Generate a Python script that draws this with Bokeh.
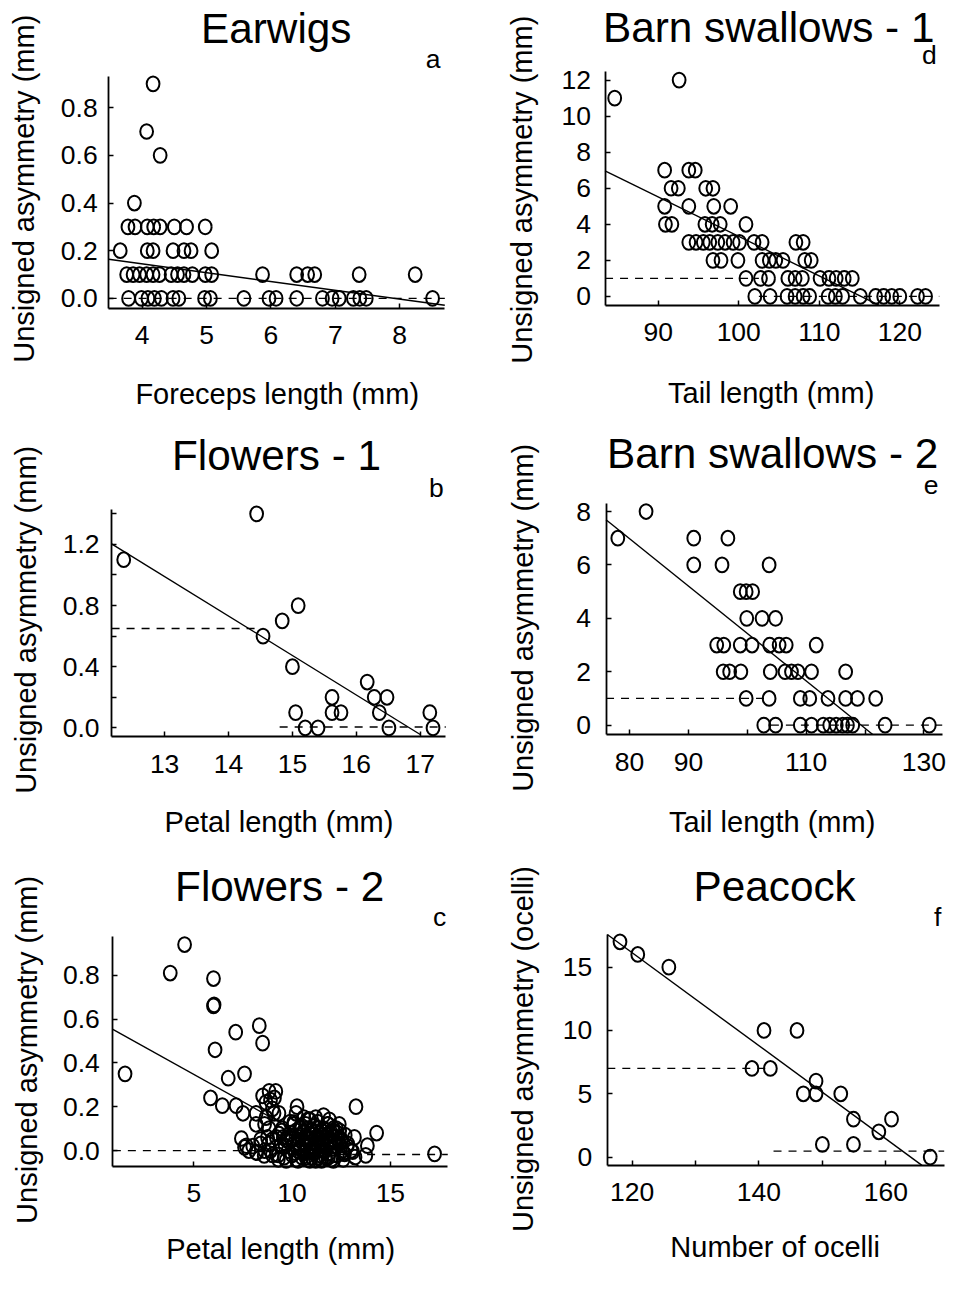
import math
from bokeh.plotting import figure
from bokeh.layouts import gridplot
from bokeh.models import FixedTicker, PrintfTickFormatter, Label, LinearAxis
from bokeh.embed import file_html
from bokeh.resources import INLINE

FONT = "Liberation Sans"

# ---------------- data ----------------
# (a) Earwigs
a_x = [4.17, 4.07, 4.28, 3.88,
       3.78, 3.89, 4.08, 4.18, 4.28, 4.50, 4.69, 4.98,
       3.66, 4.08, 4.17, 4.48, 4.65, 4.76, 5.08,
       3.76, 3.86, 3.96, 4.07, 4.17, 4.27, 4.45, 4.55, 4.65, 4.78, 4.98, 5.08, 5.87, 6.40, 6.57, 6.68, 7.37, 8.24,
       3.79, 3.99, 4.09, 4.19, 4.30, 4.48, 4.57, 4.97, 5.06, 5.58, 5.97, 6.08, 6.40, 6.80, 6.95, 7.06, 7.28, 7.38, 7.48, 8.51]
a_y = [0.9, 0.7, 0.6, 0.4,
       0.3, 0.3, 0.3, 0.3, 0.3, 0.3, 0.3, 0.3,
       0.2, 0.2, 0.2, 0.2, 0.2, 0.2, 0.2,
       0.1, 0.1, 0.1, 0.1, 0.1, 0.1, 0.1, 0.1, 0.1, 0.1, 0.1, 0.1, 0.1, 0.1, 0.1, 0.1, 0.1, 0.1,
       0.0, 0.0, 0.0, 0.0, 0.0, 0.0, 0.0, 0.0, 0.0, 0.0, 0.0, 0.0, 0.0, 0.0, 0.0, 0.0, 0.0, 0.0, 0.0, 0.0]
a_fit_x = [3.48, 8.70]
a_fit_y = [0.164, -0.029]
a_dash = [(3.48, 8.70, 0.0)]

# (b) Flowers - 1
b_x = [14.44, 12.36, 15.09, 14.84, 14.54, 15.00, 16.17, 15.62, 16.28, 16.48,
       15.05, 15.62, 15.76, 16.36, 17.15, 15.20, 15.40, 16.51, 17.20]
b_y = [1.4, 1.1, 0.8, 0.7, 0.6, 0.4, 0.3, 0.2, 0.2, 0.2,
       0.1, 0.1, 0.1, 0.1, 0.1, 0.0, 0.0, 0.0, 0.0]
b_fit_x = [12.17, 17.0]
b_fit_y = [1.204, -0.043]
b_dash = [(12.17, 14.5, 0.65), (14.8, 17.40, 0.006)]

# (c) Flowers - 2
c_pts = [(1.5, 0.35), (3.8, 0.81), (4.53, 0.94), (6.0, 0.785), (6.0, 0.66), (6.03, 0.665),
         (6.08, 0.46), (7.13, 0.54), (8.33, 0.57), (8.5, 0.49), (6.75, 0.33), (7.58, 0.35),
         (5.85, 0.24), (6.45, 0.205), (7.15, 0.205), (7.5, 0.17), (8.17, 0.17), (10.25, 0.2),
         (13.25, 0.2), (14.3, 0.08), (17.25, -0.015), (7.42, 0.055), (7.58, 0.015),
         (13.83, 0.022), (13.75, -0.022), (13.17, 0.06), (13.08, -0.005),
         (8.5, 0.25), (8.83, 0.27), (9.17, 0.27), (8.67, 0.22), (9.0, 0.19), (9.33, 0.17),
         (8.67, 0.15), (8.83, 0.1), (9.5, 0.09), (8.9, 0.23), (9.1, 0.24), (8.6, 0.12),
         (8.75, 0.06), (9.0, 0.05), (8.4, 0.03), (8.9, 0.0), (9.3, -0.02), (8.17, 0.12),
         (9.08, 0.17), (9.33, 0.075), (9.75, 0.06), (10.08, 0.127), (10.4, 0.105),
         (10.83, 0.142), (11.0, 0.09), (11.83, 0.12), (12.08, 0.09), (12.42, 0.09),
         (12.5, 0.045), (12.83, 0.03), (12.67, -0.015), (8.58, -0.022), (8.17, -0.007),
         (7.67, 0.022),
         (9.4, 0.02), (9.6, -0.03), (9.7, 0.05), (9.8, 0.0), (9.9, 0.08), (10.0, -0.02),
         (10.1, 0.03), (10.1, 0.12), (10.2, -0.04), (10.3, 0.06), (10.4, 0.01), (10.4, 0.10),
         (10.5, -0.03), (10.5, 0.04), (10.6, 0.08), (10.6, -0.01), (10.7, 0.12), (10.7, 0.02),
         (10.8, -0.04), (10.8, 0.06), (10.9, 0.14), (10.9, 0.0), (11.0, -0.03), (11.0, 0.04),
         (11.1, 0.11), (11.1, 0.01), (11.2, -0.045), (11.2, 0.06), (11.3, 0.02), (11.3, 0.13),
         (11.4, -0.02), (11.4, 0.08), (11.5, 0.04), (11.5, -0.04), (11.6, 0.10), (11.6, 0.0),
         (11.7, 0.06), (11.7, -0.03), (11.8, 0.12), (11.8, 0.02), (11.9, -0.01), (11.9, 0.08),
         (12.0, 0.04), (12.0, -0.04), (12.1, 0.1), (12.1, 0.01), (12.2, 0.06), (12.3, -0.02),
         (12.3, 0.08), (12.4, 0.03), (12.5, 0.05), (12.6, -0.01), (12.7, 0.07), (12.8, 0.02),
         (13.0, 0.0), (9.5, 0.1), (9.2, 0.06), (9.0, -0.02), (8.8, 0.03), (8.6, 0.0),
         (8.4, 0.05), (8.2, -0.01), (8.0, 0.02), (7.8, 0.0), (9.3, -0.04), (9.7, -0.045),
         (10.3, -0.045), (10.9, -0.045), (11.5, -0.045), (12.1, -0.045), (12.6, -0.04),
         (13.2, -0.03), (11.2, 0.15), (10.6, 0.15), (11.9, 0.14), (12.4, 0.12), (9.9, 0.13),
         (10.2, 0.17), (11.6, 0.16),
         (10.0, 0.05), (10.2, 0.09), (10.3, 0.0), (10.5, 0.11), (10.6, 0.03), (10.7, -0.03),
         (10.8, 0.1), (10.9, 0.05), (11.0, 0.0), (11.1, 0.07), (11.2, 0.03), (11.3, -0.03),
         (11.4, 0.05), (11.5, 0.09), (11.6, 0.03), (11.7, 0.0), (11.8, 0.07), (11.9, 0.04),
         (12.0, 0.08), (12.1, -0.02), (12.2, 0.02), (10.35, 0.03), (10.65, 0.06), (10.95, 0.09),
         (11.25, 0.1), (11.55, 0.06), (11.85, -0.03), (10.15, -0.01), (9.85, 0.04), (9.65, 0.02),
         (12.35, 0.05), (12.55, 0.0), (11.05, -0.01), (11.35, 0.06), (10.45, 0.07), (10.75, 0.0),
         (11.45, 0.01), (11.75, 0.09), (12.25, 0.1), (9.55, 0.06)]
c_x = [p[0] for p in c_pts]
c_y = [p[1] for p in c_pts]
c_fit_x = [0.88, 13.4]
c_fit_y = [0.553, -0.072]
c_dash = [(0.88, 10.0, 0.0), (10.0, 17.92, -0.018)]

# (d) Barn swallows - 1
d_x = [92.6, 84.6,
       90.8, 93.8, 94.6,
       91.6, 92.5, 95.9, 96.8,
       90.8, 93.8, 96.9, 99.0,
       90.9, 91.7, 95.8, 96.7, 97.7, 100.9,
       93.8, 94.7, 95.6, 96.4, 97.4, 98.3, 99.3, 100.1, 101.9, 102.9, 107.1, 108.0,
       96.8, 97.8, 99.9, 102.9, 103.8, 104.6, 105.5, 108.2, 109.0,
       100.9, 102.7, 103.7, 106.1, 107.0, 107.9, 110.1, 111.2, 112.1, 113.1, 114.1,
       102.0, 103.9, 106.0, 107.0, 108.0, 108.8, 111.1, 112.0, 112.9, 115.1, 117.0, 118.0, 119.0, 120.0, 122.2, 123.2]
d_y = [12, 11,
       7, 7, 7,
       6, 6, 6, 6,
       5, 5, 5, 5,
       4, 4, 4, 4, 4, 4,
       3, 3, 3, 3, 3, 3, 3, 3, 3, 3, 3, 3,
       2, 2, 2, 2, 2, 2, 2, 2, 2,
       1, 1, 1, 1, 1, 1, 1, 1, 1, 1, 1,
       0, 0, 0, 0, 0, 0, 0, 0, 0, 0, 0, 0, 0, 0, 0, 0]
d_fit_x = [83.4, 117.4]
d_fit_y = [6.97, -0.49]
d_dash = [(83.4, 102.5, 1.0), (102.5, 124.9, 0.0)]

# (e) Barn swallows - 2
e_x = [82.8,
       78.0, 90.9, 96.7,
       90.9, 95.7, 103.7,
       98.8, 99.8, 100.9,
       99.9, 102.5, 104.8,
       94.8, 96.0, 98.8, 100.8, 103.8, 105.4, 106.6, 111.7,
       95.9, 97.0, 98.9, 103.9, 106.4, 107.5, 108.6, 110.9, 116.7,
       99.8, 103.7, 109.0, 110.6, 113.7, 116.7, 118.7, 121.8,
       102.8, 104.8, 109.0, 110.9, 112.9, 114.0, 115.1, 116.2, 117.0, 117.9, 123.4, 130.9]
e_y = [8,
       7, 7, 7,
       6, 6, 6,
       5, 5, 5,
       4, 4, 4,
       3, 3, 3, 3, 3, 3, 3, 3,
       2, 2, 2, 2, 2, 2, 2, 2, 2,
       1, 1, 1, 1, 1, 1, 1, 1,
       0, 0, 0, 0, 0, 0, 0, 0, 0, 0, 0, 0]
e_fit_x = [76.0, 121.3]
e_fit_y = [7.69, -0.35]
e_dash = [(76.0, 104.0, 1.0), (104.0, 133.1, 0.0)]

# (f) Peacock
f_x = [118.1, 120.9, 125.8, 140.8, 146.0, 138.9, 141.8, 149.0, 147.0, 149.0,
       152.9, 154.9, 160.9, 158.9, 150.0, 154.9, 167.0]
f_y = [17, 16, 15, 10, 10, 7, 7, 6, 5, 5,
       5, 3, 3, 2, 1, 1, 0]
f_fit_x = [116.1, 165.7]
f_fit_y = [17.58, -0.65]
f_dash = [(116.1, 142.0, 7.0), (142.3, 169.2, 0.47)]

# tick values / labels
a_xticks = [4, 5, 6, 7, 8]
a_yticks = [0.0, 0.2, 0.4, 0.6, 0.8]
b_xticks = [13, 14, 15, 16, 17]
b_yticks = [0.0, 0.2, 0.4, 0.6, 0.8, 1.0, 1.2, 1.4]
b_yhide = [0.2, 0.6, 1.0, 1.4]
c_xticks = [5, 10, 15]
c_yticks = [0.0, 0.2, 0.4, 0.6, 0.8]
d_xticks = [90, 100, 110, 120]
d_yticks = [0, 2, 4, 6, 8, 10, 12]
e_xticks = [80, 90, 100, 110, 120, 130]
e_xhide = [100, 120]
e_yticks = [0, 2, 4, 6, 8]
f_xticks = [120, 130, 140, 150, 160]
f_xhide = [130, 150]
f_yticks = [0, 5, 10, 15]

# ---------------- layout ----------------
S = 0.983          # picture px per reference px (grid origin = reference origin)

COL_X = [0, 472]
COL_W = [472, 477]
ROW_Y = [0, 423, 855]
ROW_H = [423, 432, 414]

TICK_PX = 27
LABEL_PX = 29.5
TITLE_PX = 43
LETTER_PX = 27
MID = 0.33   # baseline -> vertical middle of text, in em

# frame = (left, top, right, bottom) of the plotting area in reference px
PANELS = [
    dict(key="a", title="Earwigs", col=0, row=0, frame=(110, 77, 452, 313),
         xr=(3.48, 8.70), yr=(-0.041, 0.932), xt=a_xticks, yt=a_yticks, yfmt="%.1f",
         xhide=[], yhide=[], ystd=11,
         title_pos=(280.5, 42.5), letter_pos=(440, 68.3),
         xlab_pos=(281.5, 410), ylab_pos=(33.5, 191.5),
         xlabel="Foreceps length (mm)", ylabel="Unsigned asymmetry (mm)",
         data=(a_x, a_y, a_fit_x, a_fit_y, a_dash)),
    dict(key="d", title="Barn swallows - 1", col=1, row=0, frame=(615, 72, 955, 310),
         xr=(83.4, 124.9), yr=(-0.49, 12.49), xt=d_xticks, yt=d_yticks, yfmt="%d",
         xhide=[], yhide=[], ystd=14,
         title_pos=(781.5, 41.7), letter_pos=(945, 64),
         xlab_pos=(784, 409.5), ylab_pos=(540, 192.5),
         xlabel="Tail length (mm)", ylabel="Unsigned asymmetry (mm)",
         data=(d_x, d_y, d_fit_x, d_fit_y, d_dash)),
    dict(key="b", title="Flowers - 1", col=0, row=1, frame=(113, 518, 453, 749),
         xr=(12.17, 17.40), yr=(-0.058, 1.427), xt=b_xticks, yt=b_yticks, yfmt="%.1f",
         xhide=[], yhide=b_yhide, ystd=12,
         title_pos=(280.8, 477.5), letter_pos=(443.3, 505),
         xlab_pos=(283.3, 845), ylab_pos=(36, 630),
         xlabel="Petal length (mm)", ylabel="Unsigned asymmetry (mm)",
         data=(b_x, b_y, b_fit_x, b_fit_y, b_dash)),
    dict(key="e", title="Barn swallows - 2", col=1, row=1, frame=(616, 511.7, 958, 746.7),
         xr=(76.0, 133.1), yr=(-0.35, 8.30), xt=e_xticks, yt=e_yticks, yfmt="%d",
         xhide=e_xhide, yhide=[], ystd=15,
         title_pos=(785.5, 475.5), letter_pos=(946.7, 501.7),
         xlab_pos=(785, 845), ylab_pos=(541, 628),
         xlabel="Tail length (mm)", ylabel="Unsigned asymmetry (mm)",
         data=(e_x, e_y, e_fit_x, e_fit_y, e_dash)),
    dict(key="c", title="Flowers - 2", col=0, row=2, frame=(114.3, 951.7, 455, 1186),
         xr=(0.88, 17.92), yr=(-0.072, 0.979), xt=c_xticks, yt=c_yticks, yfmt="%.1f",
         xhide=[], yhide=[], ystd=13,
         title_pos=(284, 916), letter_pos=(446.7, 941.7),
         xlab_pos=(285, 1280), ylab_pos=(36.5, 1067.5),
         xlabel="Petal length (mm)", ylabel="Unsigned asymmetry (mm)",
         data=(c_x, c_y, c_fit_x, c_fit_y, c_dash)),
    dict(key="f", title="Peacock", col=1, row=2, frame=(617.3, 950, 960, 1185),
         xr=(116.1, 169.2), yr=(-0.65, 17.59), xt=f_xticks, yt=f_yticks, yfmt="%d",
         xhide=f_xhide, yhide=[], ystd=15,
         title_pos=(787.5, 916), letter_pos=(953.3, 941.7),
         xlab_pos=(788, 1278), ylab_pos=(541.7, 1066.7),
         xlabel="Number of ocelli", ylabel="Unsigned asymmetry (ocelli)",
         data=(f_x, f_y, f_fit_x, f_fit_y, f_dash)),
]


def fs(px):
    return f"{px * S:.1f}px"


def make_panel(sp):
    L, T, R, B = sp["frame"]
    x0, x1 = sp["xr"]
    y0, y1 = sp["yr"]

    def dx(rx):  # reference px -> data x
        return x0 + (rx - L) / (R - L) * (x1 - x0)

    def dy(ry):  # reference px -> data y
        return y0 + (B - ry) / (B - T) * (y1 - y0)

    fx, fy = COL_X[sp["col"]], ROW_Y[sp["row"]]
    W, H = COL_W[sp["col"]], ROW_H[sp["row"]]
    xr_full = (dx(fx / S), dx((fx + W) / S))
    yr_full = (dy((fy + H) / S), dy(fy / S))

    p = figure(width=W, height=H, x_range=xr_full, y_range=yr_full,
               output_backend="svg", toolbar_location=None, title=None,
               x_axis_location=None, y_axis_location=None, min_border=0)
    p.grid.visible = False
    p.outline_line_color = None
    p.background_fill_color = "white"
    p.border_fill_color = "white"

    xa = LinearAxis(fixed_location=y0, bounds=(x0, x1))
    ya = LinearAxis(fixed_location=x0, bounds=(y0, y1))
    for ax in (xa, ya):
        ax.axis_line_color = "black"
        ax.axis_line_width = 1.8
        ax.major_tick_line_color = "black"
        ax.major_tick_line_width = 1.5
        ax.major_tick_in = 5
        ax.major_tick_out = 0
        ax.minor_tick_in = 0
        ax.minor_tick_out = 0
        ax.minor_tick_line_color = None
        ax.major_label_text_font = FONT
        ax.major_label_text_font_size = fs(TICK_PX)
        ax.major_label_text_color = "black"

    xa.ticker = FixedTicker(ticks=sp["xt"])
    xa.formatter = PrintfTickFormatter(format="%d")
    xa.major_label_overrides = {v: "" for v in sp["xhide"]}
    xa.major_label_standoff = round(18 * S)

    ya.ticker = FixedTicker(ticks=sp["yt"])
    ya.formatter = PrintfTickFormatter(format=sp["yfmt"])
    ya.major_label_overrides = {v: "" for v in sp["yhide"]}
    ya.major_label_standoff = round(sp["ystd"] * S)

    p.add_layout(xa, "below")
    p.add_layout(ya, "left")

    xs, ys, fit_x, fit_y, dashes = sp["data"]
    p.segment(x0=[d[0] for d in dashes], x1=[d[1] for d in dashes],
              y0=[d[2] for d in dashes], y1=[d[2] for d in dashes],
              line_color="black", line_width=1.3, line_dash="8 7")
    p.line(fit_x, fit_y, line_color="black", line_width=1.4)
    p.ellipse(x=xs, y=ys, width=13 * S, height=15 * S,
              width_units="screen", height_units="screen",
              fill_color=None, line_color="black", line_width=2.0)

    def hlabel(pos, text, size):
        bx, by = pos
        p.add_layout(Label(x=dx(bx), y=dy(by - MID * size), text=text, text_font=FONT,
                           text_font_size=fs(size), text_color="black",
                           text_align="center", text_baseline="middle"))

    hlabel(sp["title_pos"], sp["title"], TITLE_PX)
    hlabel(sp["letter_pos"], sp["key"], LETTER_PX)
    hlabel(sp["xlab_pos"], sp["xlabel"], LABEL_PX)
    ylx, yly = sp["ylab_pos"]
    p.add_layout(Label(x=dx(ylx - MID * LABEL_PX), y=dy(yly), text=sp["ylabel"], text_font=FONT,
                       text_font_size=fs(LABEL_PX), text_color="black", angle=math.pi / 2,
                       text_align="center", text_baseline="middle"))
    return p


figs = {sp["key"]: make_panel(sp) for sp in PANELS}
grid = gridplot([[figs["a"], figs["d"]], [figs["b"], figs["e"]], [figs["c"], figs["f"]]],
                toolbar_location=None)

open("out.html", "w").write(file_html(grid, INLINE))
